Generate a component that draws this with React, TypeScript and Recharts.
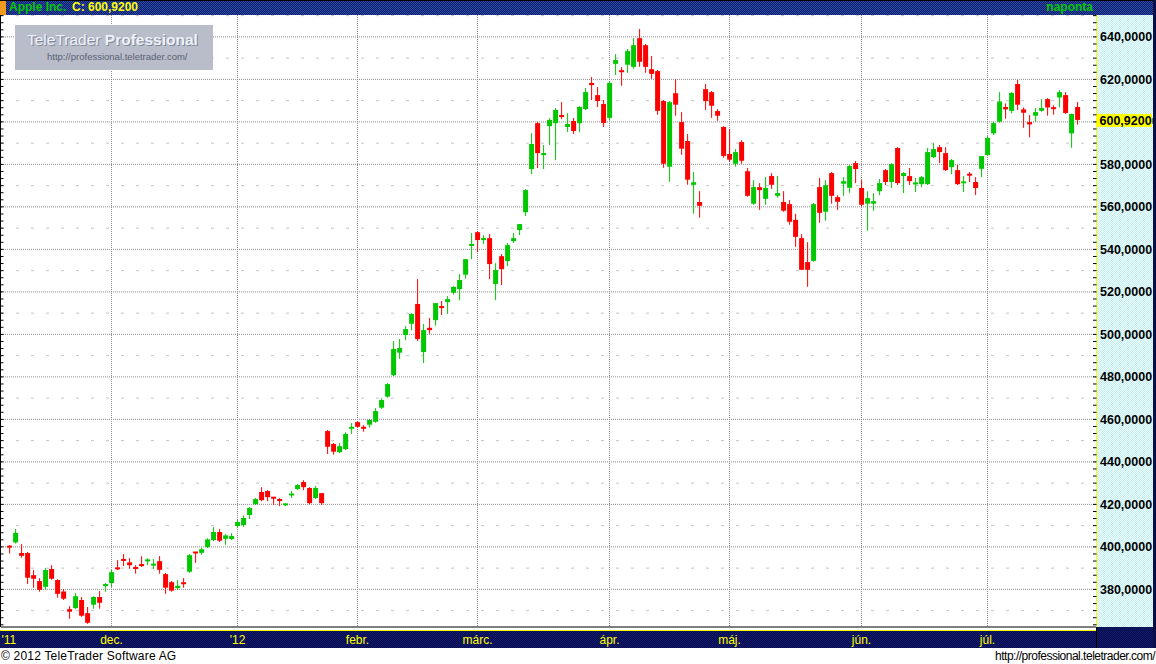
import React from 'react';
import { ComposedChart, Bar, XAxis, YAxis, CartesianGrid } from 'recharts';

// Daily candles, Apple Inc. (index = trading day, Nov 2011 .. Jul 2012)
const openPrices = [
  400.2, 402.1, 397.1, 397.1, 386.7, 383.9, 381.2, 389.6, 384.4, 379.0,
  370.7, 371.2, 375.0, 368.8, 372.8, 376.4, 381.6, 383.0, 390.2, 394.0,
  392.7, 390.2, 391.9, 393.5, 391.5, 393.3, 387.2, 383.4, 380.6, 383.0,
  388.3, 397.5, 397.2, 399.9, 403.2, 407.0, 403.8, 403.7, 409.8, 410.3,
  415.0, 420.1, 425.8, 426.3, 423.3, 422.5, 419.9, 424.5, 427.2, 430.5,
  427.7, 423.0, 425.3, 454.5, 448.4, 444.6, 446.0, 455.9, 458.7, 456.2,
  457.5, 458.9, 465.5, 470.7, 480.8, 491.4, 499.7, 505.0, 514.3, 491.7,
  503.1, 506.7, 513.0, 515.2, 519.6, 521.3, 528.1, 542.0, 548.1, 544.4,
  545.3, 523.7, 536.8, 534.5, 543.9, 549.1, 557.5, 577.8, 599.4, 584.4,
  598.0, 599.4, 602.9, 597.6, 600.4, 599.4, 606.0, 618.3, 612.6, 608.4,
  601.9, 627.3, 624.0, 626.9, 625.9, 639.4, 636.1, 624.8, 623.9, 609.8,
  578.9, 613.5, 599.9, 591.0, 570.4, 562.3, 615.4, 614.0, 605.1, 597.6,
  584.9, 580.3, 590.5, 576.8, 561.5, 569.3, 563.8, 574.5, 565.2, 562.3,
  561.3, 553.9, 545.3, 534.0, 534.6, 569.3, 557.7, 575.9, 564.6, 570.9,
  569.0, 580.6, 568.9, 561.5, 561.5, 567.4, 577.3, 571.7, 587.7, 574.5,
  574.5, 570.9, 570.7, 570.7, 583.4, 588.1, 585.3, 578.7, 577.3, 571.4,
  575.3, 571.7, 577.9, 584.4, 594.6, 600.1, 607.0, 605.2, 617.8, 605.9,
  599.9, 602.9, 605.2, 610.7, 606.6, 611.5, 612.6, 594.6, 607.0,
];
const highPrices = [
  400.8, 408.4, 401.3, 397.6, 389.1, 385.3, 390.0, 391.4, 384.8, 380.1,
  372.1, 378.3, 376.4, 371.7, 376.8, 379.2, 383.0, 389.1, 393.8, 396.6,
  394.7, 391.4, 395.6, 394.7, 394.3, 395.7, 387.7, 383.9, 384.4, 385.3,
  396.6, 397.7, 399.6, 404.1, 409.3, 408.4, 406.0, 406.5, 412.6, 414.8,
  418.7, 423.0, 428.1, 426.7, 423.4, 423.0, 420.6, 426.3, 429.6, 431.4,
  428.1, 428.6, 425.3, 455.0, 448.9, 448.9, 454.0, 458.3, 459.2, 457.3,
  460.1, 465.3, 470.0, 477.1, 496.9, 497.8, 503.9, 510.0, 526.0, 504.9,
  507.7, 514.7, 515.7, 518.0, 522.7, 528.4, 535.4, 547.7, 548.6, 546.7,
  547.2, 533.5, 537.8, 543.0, 547.7, 551.9, 568.4, 594.7, 599.9, 589.1,
  601.8, 606.5, 609.3, 604.1, 601.8, 607.4, 615.9, 621.1, 616.4, 610.3,
  619.2, 631.9, 625.8, 634.3, 639.4, 643.7, 636.6, 631.0, 624.4, 610.3,
  609.8, 620.1, 604.6, 594.3, 576.4, 567.4, 617.8, 614.5, 606.0, 598.0,
  596.6, 587.2, 591.4, 578.3, 572.6, 571.2, 574.0, 575.9, 574.5, 567.4,
  563.2, 556.8, 547.2, 543.4, 561.8, 573.6, 572.6, 576.4, 565.5, 574.0,
  579.7, 581.6, 572.6, 567.4, 566.5, 573.1, 577.8, 580.6, 588.1, 576.4,
  578.3, 573.6, 574.5, 587.7, 590.0, 589.1, 588.1, 582.5, 579.7, 574.5,
  576.4, 574.0, 583.9, 593.3, 600.1, 614.0, 608.7, 614.0, 619.7, 606.8,
  603.2, 606.5, 610.7, 611.2, 607.8, 615.0, 614.0, 603.9, 609.3,
];
const lowPrices = [
  396.9, 401.6, 394.9, 382.5, 380.8, 378.9, 379.8, 384.5, 376.1, 375.0,
  366.2, 370.7, 367.1, 363.8, 370.9, 370.9, 378.9, 381.1, 389.1, 391.0,
  389.7, 387.4, 390.5, 391.4, 389.6, 387.4, 377.9, 378.9, 379.8, 380.8,
  387.8, 392.5, 396.3, 399.4, 402.7, 402.3, 401.0, 403.2, 409.3, 409.5,
  413.1, 419.7, 421.5, 421.5, 419.7, 419.2, 419.2, 423.0, 426.7, 426.7,
  420.1, 422.5, 419.7, 443.7, 443.4, 444.1, 445.6, 453.2, 456.1, 454.2,
  456.1, 458.4, 464.9, 470.2, 480.4, 488.5, 497.3, 502.0, 496.9, 486.5,
  500.3, 504.1, 509.1, 509.6, 518.7, 516.1, 526.2, 535.4, 538.7, 542.5,
  526.0, 516.1, 523.2, 532.1, 543.0, 546.7, 555.7, 575.4, 578.3, 577.8,
  589.1, 582.0, 601.3, 595.2, 594.3, 595.2, 605.6, 610.3, 607.0, 597.6,
  600.6, 622.1, 617.0, 623.1, 625.0, 625.9, 623.1, 620.3, 603.3, 578.4,
  571.8, 602.9, 584.5, 570.4, 556.8, 554.9, 605.7, 601.9, 600.5, 583.1,
  581.2, 578.9, 580.3, 564.8, 561.0, 558.6, 561.0, 568.5, 564.3, 557.7,
  551.6, 541.2, 530.2, 522.4, 534.2, 552.5, 553.5, 561.5, 558.6, 565.2,
  566.6, 571.2, 560.1, 548.8, 558.2, 565.5, 570.3, 568.9, 570.3, 566.5,
  570.3, 567.0, 569.3, 570.3, 583.0, 580.6, 576.9, 575.4, 570.3, 567.0,
  571.7, 565.6, 574.0, 584.2, 593.8, 599.6, 601.5, 604.0, 605.6, 597.2,
  592.7, 600.1, 604.8, 602.9, 603.4, 606.8, 603.7, 587.8, 598.7,
];
const closePrices = [
  400.0, 406.6, 395.8, 385.5, 385.0, 379.8, 389.1, 385.0, 377.9, 375.6,
  369.5, 376.8, 367.6, 364.3, 376.4, 373.7, 382.5, 388.1, 389.6, 393.7,
  391.4, 389.9, 391.0, 393.8, 391.8, 389.2, 380.8, 379.4, 381.7, 382.8,
  396.1, 397.2, 398.9, 403.5, 407.0, 402.9, 405.4, 405.1, 411.7, 413.6,
  418.3, 422.5, 422.0, 423.4, 423.0, 421.6, 420.1, 424.8, 429.1, 428.1,
  420.6, 427.7, 420.6, 447.1, 444.8, 447.4, 453.1, 456.2, 456.5, 455.9,
  459.7, 463.9, 469.1, 476.6, 493.1, 493.6, 502.5, 509.6, 497.8, 502.0,
  502.0, 514.7, 512.7, 516.6, 522.3, 525.6, 535.4, 542.2, 544.4, 545.3,
  533.1, 530.3, 530.7, 542.0, 545.3, 551.9, 567.9, 589.6, 585.3, 585.3,
  600.9, 605.6, 602.6, 599.0, 595.7, 607.0, 614.0, 617.3, 609.8, 599.5,
  618.3, 629.1, 623.7, 633.3, 636.1, 628.3, 625.9, 622.6, 605.2, 580.3,
  609.3, 608.1, 587.4, 572.8, 571.6, 560.5, 609.8, 607.6, 602.9, 584.0,
  582.2, 585.8, 581.7, 565.2, 569.3, 567.9, 568.9, 570.4, 566.5, 558.2,
  553.0, 545.9, 530.4, 530.4, 561.3, 557.2, 570.2, 565.2, 562.4, 572.1,
  579.2, 577.8, 561.0, 564.1, 562.7, 571.2, 571.7, 580.1, 571.2, 575.9,
  572.1, 571.2, 574.0, 585.8, 587.2, 585.8, 577.3, 582.0, 570.7, 571.7,
  575.0, 568.9, 583.9, 592.4, 599.4, 609.6, 605.9, 613.6, 608.1, 604.3,
  598.8, 604.6, 606.5, 606.8, 606.3, 614.0, 604.2, 603.7, 600.92,
];

// Axis / label content
const monthTickIndex = [0, 17, 38, 58, 78, 100, 120, 142, 163];
const monthTickLabels = ["'11", 'dec.', "'12", 'febr.', 'márc.', 'ápr.', 'máj.', 'jún.', 'júl.'];
const gridMonthIndex = [17, 38, 58, 78, 100, 120, 142, 163];
const majorPriceTicks = [380, 400, 420, 440, 460, 480, 500, 520, 540, 560, 580, 600, 620, 640];
const minorGridLevels = [370, 390, 410, 430, 450, 470, 490, 510, 530, 550, 570, 590, 610, 630, 650];
const priceDomain = [362.3, 650.3];
const instrumentName = 'Apple Inc.';
const periodLabel = 'naponta';
const copyrightText = '© 2012 TeleTrader Software AG';
const siteUrl = 'http://professional.teletrader.com/';

const lastClose = closePrices[closePrices.length - 1];

// minor axis ticks every 10/3 units, aligned with the labelled ticks
const axisTicks: number[] = [];
for (let k = -5; k <= 81; k++) axisTicks.push(380 + (k * 10) / 3);
axisTicks.push(lastClose);

const rows = closePrices.map((c, i) => ({
  i,
  o: openPrices[i],
  h: highPrices[i],
  l: lowPrices[i],
  c,
  range: [lowPrices[i], highPrices[i]],
}));

const fmt4 = (v: number) => v.toFixed(4).replace('.', ',');
const checker = (a: string, b: string) => `repeating-conic-gradient(${a} 0% 25%, ${b} 0% 50%) 0 0 / 2px 2px`;

const UP = '#00C800';
const DOWN = '#FF0000';
const FONT = '"Liberation Sans", Arial, sans-serif';

const Candle = (props: any) => {
  const { x, y, width, height, payload } = props;
  if (!payload || x == null) return null;
  const { o, h, l, c } = payload;
  const top = Math.min(y, y + height);
  const hh = Math.abs(height);
  const ppu = h - l > 0 ? hh / (h - l) : 0;
  const py = (v: number) => top + (h - v) * ppu;
  const cx = x + width / 2;
  const color = c >= o ? UP : DOWN;
  let bTop = py(Math.max(o, c));
  let bBot = py(Math.min(o, c));
  if (bBot - bTop < 2) {
    const mid = (bTop + bBot) / 2;
    bTop = mid - 1;
    bBot = mid + 1;
  }
  return (
    <g>
      <line x1={cx} x2={cx} y1={top} y2={top + hh} stroke={color} strokeWidth={1} />
      <rect x={cx - 2.5} y={bTop} width={5} height={bBot - bTop} fill={color} />
    </g>
  );
};

const MonthTick = (props: any) => {
  const { x, y, payload } = props;
  const idx = monthTickIndex.indexOf(payload.value);
  if (idx < 0) return null;
  const first = idx === 0;
  return (
    <text
      x={first ? 1.5 : x}
      y={y + 16.5}
      textAnchor={first ? 'start' : 'middle'}
      fill="#FFFF00"
      fontSize={12}
      fontFamily={FONT}
    >
      {monthTickLabels[idx]}
    </text>
  );
};

const PriceTick = (props: any) => {
  const { x, y, payload } = props;
  const v = payload.value;
  if (v === lastClose) {
    return (
      <g>
        <rect x={x + 0.5} y={y - 6} width={55} height={13} fill="#FFFF00" />
        <text x={x + 3} y={y + 5} fill="#000" fontSize={12.5} fontWeight="bold" fontFamily={FONT}>
          {fmt4(v)}
        </text>
        <line x1={x + 56.5} x2={x + 56.5} y1={y - 2} y2={y + 4} stroke="#000" />
      </g>
    );
  }
  const isMajor = Math.abs(v - Math.round(v / 20) * 20) < 1e-6;
  return (
    <g>
      <line x1={x - 3.5} x2={x} y1={y} y2={y} stroke="#000" strokeWidth={1} />
      <line x1={0} x2={3.5} y1={y} y2={y} stroke="#000" strokeWidth={1} />
      {isMajor && v !== 600 && (
        <text x={x + 3.5} y={y + 4.5} fill="#000" fontSize={12.5} fontWeight="bold" fontFamily={FONT}>
          {fmt4(v)}
        </text>
      )}
    </g>
  );
};

export default function App() {
  return (
    <div
      style={{
        position: 'absolute',
        left: 0,
        top: 0,
        width: 1156,
        height: 664,
        background: '#fff',
        overflow: 'hidden',
        fontFamily: FONT,
      }}
    >
      {/* header */}
      <div
        style={{
          position: 'absolute', left: 0, top: 0, width: 1153, height: 15,
          background: checker('#2A4CB2', '#0E1C5E'), borderTop: '1px solid #000', boxSizing: 'border-box',
        }}
      />
      <div style={{ position: 'absolute', left: 0, top: 1, width: 6, height: 14, background: '#F39A1E' }} />
      <div style={{ position: 'absolute', left: 9, top: 0, height: 15, lineHeight: '15px', fontSize: 12, fontWeight: 'bold', color: '#00C800', whiteSpace: 'nowrap' }}>
        {instrumentName}
      </div>
      <div style={{ position: 'absolute', left: 72, top: 0, height: 15, lineHeight: '15px', fontSize: 12, fontWeight: 'bold', color: '#FFFF00', whiteSpace: 'nowrap' }}>
        {`C: ${fmt4(lastClose)}`}
      </div>
      <div style={{ position: 'absolute', left: 1000, width: 93, top: 0, height: 15, lineHeight: '15px', fontSize: 12, fontWeight: 'bold', color: '#00C800', textAlign: 'right', whiteSpace: 'nowrap' }}>
        {periodLabel}
      </div>

      {/* right axis panel */}
      <div style={{ position: 'absolute', left: 1097, top: 15, width: 56, height: 612, background: checker('#BDF1F1', '#F6FFFF') }} />
      <div style={{ position: 'absolute', left: 1153, top: 0, width: 3, height: 648, background: '#0A0F48' }} />

      {/* left border */}
      <div style={{ position: 'absolute', left: 0, top: 15, width: 1, height: 612, background: '#000' }} />

      {/* bottom band */}
      <div style={{ position: 'absolute', left: 0, top: 630, width: 1097, height: 1, background: '#FFFF00' }} />
      <div style={{ position: 'absolute', left: 0, top: 631, width: 1153, height: 17, background: checker('#131C74', '#060B45') }} />
      <div style={{ position: 'absolute', left: 1097, top: 627, width: 56, height: 4, background: '#0A1258' }} />
      <div style={{ position: 'absolute', left: 1096, top: 627, width: 1, height: 21, background: '#000' }} />

      {/* footer */}
      <div style={{ position: 'absolute', left: 1, top: 648, height: 16, lineHeight: '16px', fontSize: 12, letterSpacing: 0.2, color: '#000', whiteSpace: 'nowrap' }}>
        {copyrightText}
      </div>
      <div style={{ position: 'absolute', right: 1, top: 648, height: 16, lineHeight: '16px', fontSize: 12, letterSpacing: -0.5, color: '#000', whiteSpace: 'nowrap' }}>
        {siteUrl}
      </div>

      <div style={{ position: 'absolute', left: 0, top: 0 }}>
        <ComposedChart
          width={1156}
          height={664}
          data={rows}
          margin={{ top: 15, right: 0, bottom: 17, left: 1 }}
        >
          <CartesianGrid horizontal vertical={false} horizontalValues={minorGridLevels} stroke="#C4C4C4" strokeDasharray="3 12" />
          <CartesianGrid horizontal vertical={false} horizontalValues={majorPriceTicks} stroke="#8A8A8A" strokeDasharray="1 1" />
          <CartesianGrid horizontal={false} vertical verticalValues={gridMonthIndex} stroke="#8A8A8A" strokeDasharray="1 1" />
          <XAxis
            dataKey="i"
            type="category"
            ticks={monthTickIndex}
            interval={0}
            tickLine={false}
            tickSize={0}
            tickMargin={0}
            axisLine={{ stroke: '#000' }}
            height={20}
            padding={{ left: 5.5, right: 16 }}
            tick={<MonthTick />}
          />
          <YAxis
            orientation="right"
            type="number"
            domain={priceDomain}
            allowDataOverflow
            ticks={axisTicks}
            interval={0}
            tickLine={false}
            tickSize={0}
            tickMargin={0}
            axisLine={{ stroke: '#FFFF00' }}
            width={59.5}
            tick={<PriceTick />}
          />
          <Bar dataKey="range" shape={<Candle />} isAnimationActive={false} />
        </ComposedChart>
      </div>

      {/* watermark */}
      <div style={{ position: 'absolute', left: 15, top: 25, width: 198, height: 45, background: '#B8BDC9' }}>
        <div style={{ position: 'absolute', left: 12, top: 6, fontSize: 15.5, lineHeight: '18px', color: '#EEF1F7', textShadow: '1px 1px 0 #7F869A', whiteSpace: 'nowrap' }}>
          TeleTrader <span style={{ fontWeight: 'bold' }}>Professional</span>
        </div>
        <div style={{ position: 'absolute', left: 32, top: 26, fontSize: 9.5, lineHeight: '12px', color: '#5A6176', whiteSpace: 'nowrap' }}>
          {siteUrl}
        </div>
      </div>
    </div>
  );
}
